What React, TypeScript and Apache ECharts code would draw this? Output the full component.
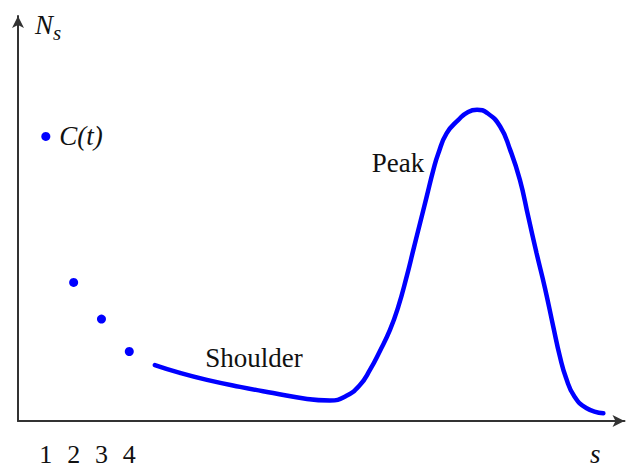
import React, { useEffect, useRef } from 'react';
import * as echarts from 'echarts';

const tickLabels = ['1', '2', '3', '4'];
const dotS = [1, 2, 3, 4];
const dotN = [69.2, 33.7, 24.8, 16.9];
const curveS = [4.92, 5.82, 6.79, 7.98, 9.17, 10.39, 11.21, 11.79, 12.29, 12.65, 13.01, 13.37, 13.67, 13.97, 14.21, 14.45, 14.69, 14.93, 15.11, 15.41, 15.83, 16.18, 16.5, 16.86, 17.33, 17.69, 18.04, 18.34, 18.64, 18.94, 19.24, 19.48, 19.7, 19.99, 20.44, 21.04];
const curveN = [13.6, 11.7, 10.0, 8.3, 6.8, 5.35, 4.99, 6.08, 8.76, 12.41, 17.03, 22.14, 27.81, 35.11, 41.61, 48.1, 54.57, 61.07, 65.13, 70.0, 73.24, 75.18, 75.67, 74.94, 71.61, 65.94, 58.64, 49.71, 40.8, 32.36, 22.94, 15.64, 10.46, 6.08, 3.09, 1.87];
const annotationNames = ['Peak', 'Shoulder'];
const annotationS = [13.66, 8.48];
const annotationN = [62.8, 15.3];

const SERIF = 'Liberation Serif, Times New Roman, serif';
const INK = '#111';

export default function App() {
  const ref = useRef<HTMLDivElement>(null);
  useEffect(() => {
    document.body.style.margin = '0';
    const chart = echarts.init(ref.current!, null, { renderer: 'svg' });
    const axisLine = {
      show: true,
      symbol: ['none', 'arrow'],
      symbolSize: [9, 12],
      lineStyle: { color: '#333', width: 2 },
    };
    chart.setOption({
      animation: false,
      backgroundColor: '#fff',
      grid: { left: 18, right: 8.5, top: 16, bottom: 50 },
      xAxis: {
        type: 'value',
        min: 0,
        max: 21.8,
        interval: 1,
        axisLine,
        axisTick: { show: false },
        splitLine: { show: false },
        axisLabel: {
          margin: 20,
          fontFamily: SERIF,
          fontSize: 26,
          color: INK,
          showMaxLabel: false,
          formatter: (v: number) => (tickLabels.includes(String(v)) ? String(v) : ''),
        },
      },
      yAxis: {
        type: 'value',
        min: 0,
        max: 98.5,
        axisLine,
        axisTick: { show: false },
        axisLabel: { show: false },
        splitLine: { show: false },
      },
      graphic: [
        {
          type: 'text',
          left: 35,
          top: 11,
          style: {
            text: '{n|N}{s|s}',
            rich: {
              n: { fontFamily: SERIF, fontStyle: 'italic', fontSize: 27, fill: INK },
              s: { fontFamily: SERIF, fontStyle: 'italic', fontSize: 21, fill: INK, padding: [16, 0, 0, 0] },
            },
          },
        },
        {
          type: 'text',
          left: 590,
          top: 440,
          style: { text: 's', fontFamily: SERIF, fontStyle: 'italic', fontSize: 27, fill: INK },
        },
      ],
      series: [
        {
          type: 'scatter',
          symbolSize: 9,
          itemStyle: { color: '#0000ff', opacity: 1 },
          data: dotS.map((s, i) => ({
            value: [s, dotN[i]],
            label: i === 0
              ? { show: true, position: 'right', distance: 9, formatter: 'C(t)', fontFamily: SERIF, fontStyle: 'italic', fontSize: 27, color: INK }
              : { show: false },
          })),
        },
        {
          type: 'line',
          smooth: 0.5,
          showSymbol: false,
          lineStyle: { color: '#0000ff', width: 4.5, cap: 'round' },
          data: curveS.map((s, i) => [s, curveN[i]]),
          markPoint: {
            symbol: 'circle',
            symbolSize: 0,
            label: { show: true, position: 'inside', fontFamily: SERIF, fontSize: 27, color: INK, formatter: '{b}' },
            data: annotationNames.map((name, i) => ({ name, coord: [annotationS[i], annotationN[i]] })),
          },
        },
      ],
    });
    return () => chart.dispose();
  }, []);
  return <div ref={ref} style={{ width: 633, height: 471 }} />;
}
